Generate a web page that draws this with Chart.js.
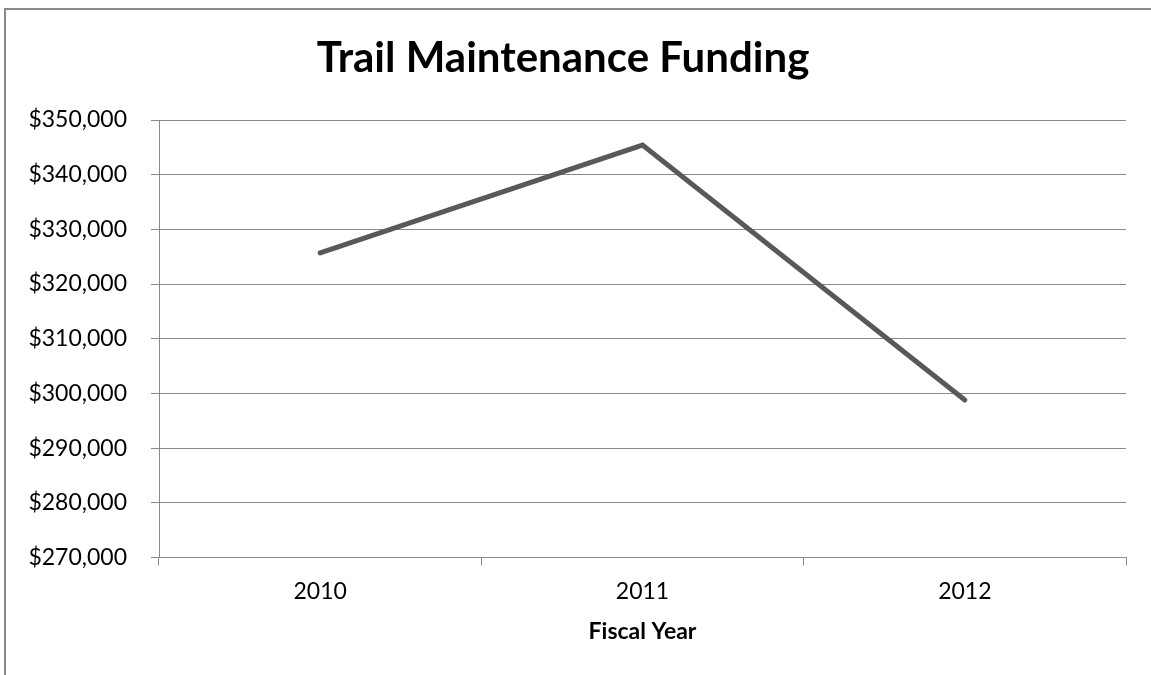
<!DOCTYPE html>
<html>
<head>
<meta charset="utf-8">
<title>Trail Maintenance Funding</title>
<script src="https://cdn.jsdelivr.net/npm/chart.js@4/dist/chart.umd.min.js"></script>
<style>
  html, body { margin: 0; padding: 0; background: #ffffff; overflow: hidden; }
  #frame {
    position: absolute; left: 4px; top: 8px;
    width: 1200px; height: 720px;
    border: 2px solid #8a8a8a; box-sizing: border-box;
  }
  #wrap { position: absolute; left: 0; top: 0; width: 1151px; height: 675px; }
</style>
</head>
<body>
<div id="frame"></div>
<div id="wrap"><canvas id="chart" width="1151" height="675"></canvas></div>
<script>
// Funding by fiscal year
const fiscalYears = ['2010', '2011', '2012'];
const funding = [325700, 345400, 298800];

// Y axis range and step (dollars)
const yMin = 270000;
const yMax = 350000;
const yStep = 10000;

const FONT = 'Lato, "Open Sans", sans-serif';
const GRID = '#8a8a8a';

new Chart(document.getElementById('chart'), {
  type: 'line',
  data: {
    labels: fiscalYears,
    datasets: [{
      data: funding,
      borderColor: '#595959',
      borderWidth: 5,
      borderCapStyle: 'round',
      borderJoinStyle: 'miter',
      pointRadius: 0,
      pointHoverRadius: 0,
      tension: 0,
      fill: false
    }]
  },
  options: {
    responsive: false,
    animation: false,
    layout: { padding: { left: 0, right: 25, top: 0, bottom: 30 } },
    plugins: {
      legend: { display: false },
      tooltip: { enabled: false },
      title: {
        display: true,
        text: 'Trail Maintenance Funding',
        color: '#000000',
        font: { family: FONT, size: 42, weight: 'bold', lineHeight: 1.2 },
        padding: { top: 33, bottom: 36.6 }
      }
    },
    scales: {
      x: {
        type: 'category',
        offset: true,
        grid: {
          offset: true,
          drawOnChartArea: false,
          drawTicks: true,
          tickLength: 8,
          color: GRID,
          lineWidth: 1
        },
        border: { display: true, color: GRID, width: 1 },
        ticks: {
          color: '#000000',
          font: { family: FONT, size: 23 },
          padding: 12
        },
        title: {
          display: true,
          text: 'Fiscal Year',
          color: '#000000',
          font: { family: FONT, size: 23, weight: 'bold', lineHeight: 1.2 },
          padding: { top: 6, bottom: 0 }
        },
        afterFit(scale) { scale.height = 645 - 557.5; }
      },
      y: {
        min: yMin,
        max: yMax,
        grid: {
          drawOnChartArea: true,
          drawTicks: true,
          tickLength: 8,
          color: GRID,
          lineWidth: 1
        },
        border: { display: true, color: GRID, width: 1 },
        ticks: {
          stepSize: yStep,
          color: '#000000',
          font: { family: FONT, size: 23 },
          padding: 24,
          callback: (v) => '$' + Number(v).toLocaleString('en-US')
        },
        afterFit(scale) { scale.width = 159; }
      }
    }
  }
});
</script>
</body>
</html>
